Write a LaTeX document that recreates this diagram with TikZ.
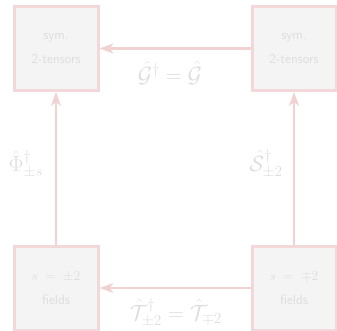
\documentclass[tikz,border=0pt]{standalone}
\usepackage{fix-cm}
\usepackage{amsmath}
\usetikzlibrary{arrows.meta}
\definecolor{boxline}{RGB}{242,216,216}
\definecolor{boxfill}{RGB}{244,244,244}
\definecolor{txt}{RGB}{221,221,221}
\definecolor{arr}{RGB}{241,210,210}
\tikzset{
  x=1pt,y=-1pt,
  tbox/.style={draw=boxline,fill=boxfill,line width=3pt,minimum width=84pt,minimum height=84pt,inner sep=0pt,align=center,text=txt,font=\sffamily\fontsize{13.5}{24}\selectfont},
  conn/.style={draw=arr,line width=2.4pt,-{Stealth[length=14pt,width=10pt,inset=4pt]}},
  lab/.style={text=txt,font=\fontsize{22}{24}\selectfont,inner sep=0pt}
}
\begin{document}
\begin{tikzpicture}
\useasboundingbox (0,0) rectangle (337,331);
\node[tbox] (tl) at (56,48.5) {sym.\\2-tensors};
\node[tbox] (tr) at (294,48.5) {sym.\\2-tensors};
\node[tbox] (bl) at (56,288) {$s\;=\;\pm2$\\fields};
\node[tbox] (br) at (294,288) {$s\;=\;\mp2$\\fields};
\draw[conn] (tr) -- (tl);
\draw[conn] (br) -- (bl);
\draw[conn] (bl) -- (tl);
\draw[conn] (br) -- (tr);
\node[lab] (lg) at (170,73) {$\hat{\mathcal{G}}^\dagger=\hat{\mathcal{G}}$};
\node[lab] (lt) at (176,313) {$\hat{\mathcal{T}}^\dagger_{\pm2}=\hat{\mathcal{T}}_{\mp2}$};
\node[lab] (lp) at (26,164) {$\hat{\Phi}^\dagger_{\pm s}$};
\node[lab] (ls) at (266,164) {$\hat{\mathcal{S}}^\dagger_{\pm2}$};
\end{tikzpicture}
\end{document}
